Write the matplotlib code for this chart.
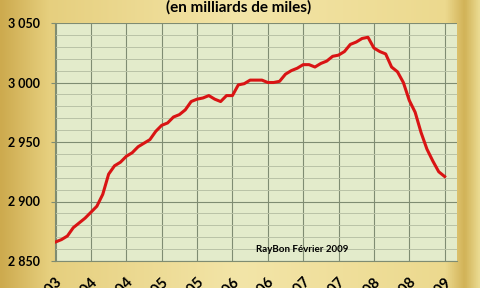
import numpy as np
import matplotlib
matplotlib.use("Agg")
import matplotlib.pyplot as plt
import matplotlib.transforms as mtransforms
from matplotlib.colors import LinearSegmentedColormap
from matplotlib.ticker import MultipleLocator

# =====================================================
# DATA (milliards de miles, cumul 12 mois, mensuel)
# =====================================================

TICK_LABELS = [
    "juil-03", "janv-04", "juil-04", "janv-05", "juil-05", "janv-06",
    "juil-06", "janv-07", "juil-07", "janv-08", "juil-08", "janv-09",
]

MILES = [
    2866, 2868, 2871, 2878, 2882, 2886, 2891, 2896, 2906, 2923,
    2930, 2933, 2938, 2941, 2946, 2949, 2952, 2959, 2964, 2966,
    2971, 2973, 2977, 2984, 2986, 2987, 2989, 2986, 2984, 2989,
    2989, 2998, 2999, 3002, 3002, 3002, 3000, 3000, 3001, 3007,
    3010, 3012, 3015, 3015, 3013, 3016, 3018, 3022, 3023, 3026,
    3032, 3034, 3037, 3038, 3029, 3026, 3024, 3013, 3009, 3000,
    2985, 2975, 2958, 2944, 2934, 2925, 2921,
]

Y_TICKS = [2850, 2900, 2950, 3000, 3050]

months = np.arange(len(MILES))

plt.rcParams["font.family"] = ["Lato", "DejaVu Sans"]

# =====================================================
# FIGURE
# =====================================================

fig = plt.figure(figsize=(4.8, 2.88), dpi=100)

# gold gradient background
bg = fig.add_axes([0, 0, 1, 1], zorder=0)
gold = LinearSegmentedColormap.from_list("gold", [
    (0.0, "#cdaa4e"),
    (0.10, "#e6cf7e"),
    (0.5, "#f3e5a8"),
    (0.93, "#ecd98e"),
    (0.97, "#d1b257"),
    (1.0, "#eada90"),
])
bg.imshow(np.linspace(0, 1, 256).reshape(1, -1), aspect="auto",
          cmap=gold, extent=[0, 1, 0, 1])
bg.set_axis_off()

ax = fig.add_axes([55 / 480, 1 - 261 / 288, 402 / 480, 238 / 288], zorder=1)
ax.set_facecolor("#e3ebcb")

ax.plot(months, MILES, color="#d91414", linewidth=2.2,
        solid_joinstyle="round", zorder=3)

ax.set_xlim(-0.1, 68.1)
ax.set_ylim(2850, 3050)

ax.set_xticks(np.arange(0, 67, 6))
ax.set_xticklabels(TICK_LABELS, rotation=45, ha="right",
                   rotation_mode="anchor", fontsize=10.5, fontweight="bold")
shift = mtransforms.ScaledTranslation(6 / 100, 0, fig.dpi_scale_trans)
for lbl in ax.get_xticklabels():
    lbl.set_transform(lbl.get_transform() + shift)

ax.set_yticks(Y_TICKS)
ax.set_yticklabels([f"{v:,}".replace(",", " ") for v in Y_TICKS],
                   fontsize=9, fontweight="bold")
ax.yaxis.set_minor_locator(MultipleLocator(10))

ax.grid(which="major", axis="both", color="#7f8c72", linewidth=0.8)
ax.grid(which="minor", axis="y", color="#b9c2a6", linewidth=0.7)
ax.set_axisbelow(True)

ax.tick_params(axis="y", which="major", length=3, color="#7f8c72", pad=8)
ax.tick_params(axis="y", which="minor", length=0)
ax.tick_params(axis="x", length=0, pad=10.5)

for side in ["top", "right"]:
    ax.spines[side].set_visible(False)
for side in ["left", "bottom"]:
    ax.spines[side].set_color("#7f8c72")
    ax.spines[side].set_linewidth(0.8)

ax.text(0.615, 0.05, "RayBon Février 2009", transform=ax.transAxes,
        fontsize=7, fontweight="bold", ha="center", va="center")

fig.text(0.498, 0.975, "(en milliards de miles)", fontsize=11,
         fontweight="bold", ha="center", va="center")

fig.savefig("out.png", dpi=100)
